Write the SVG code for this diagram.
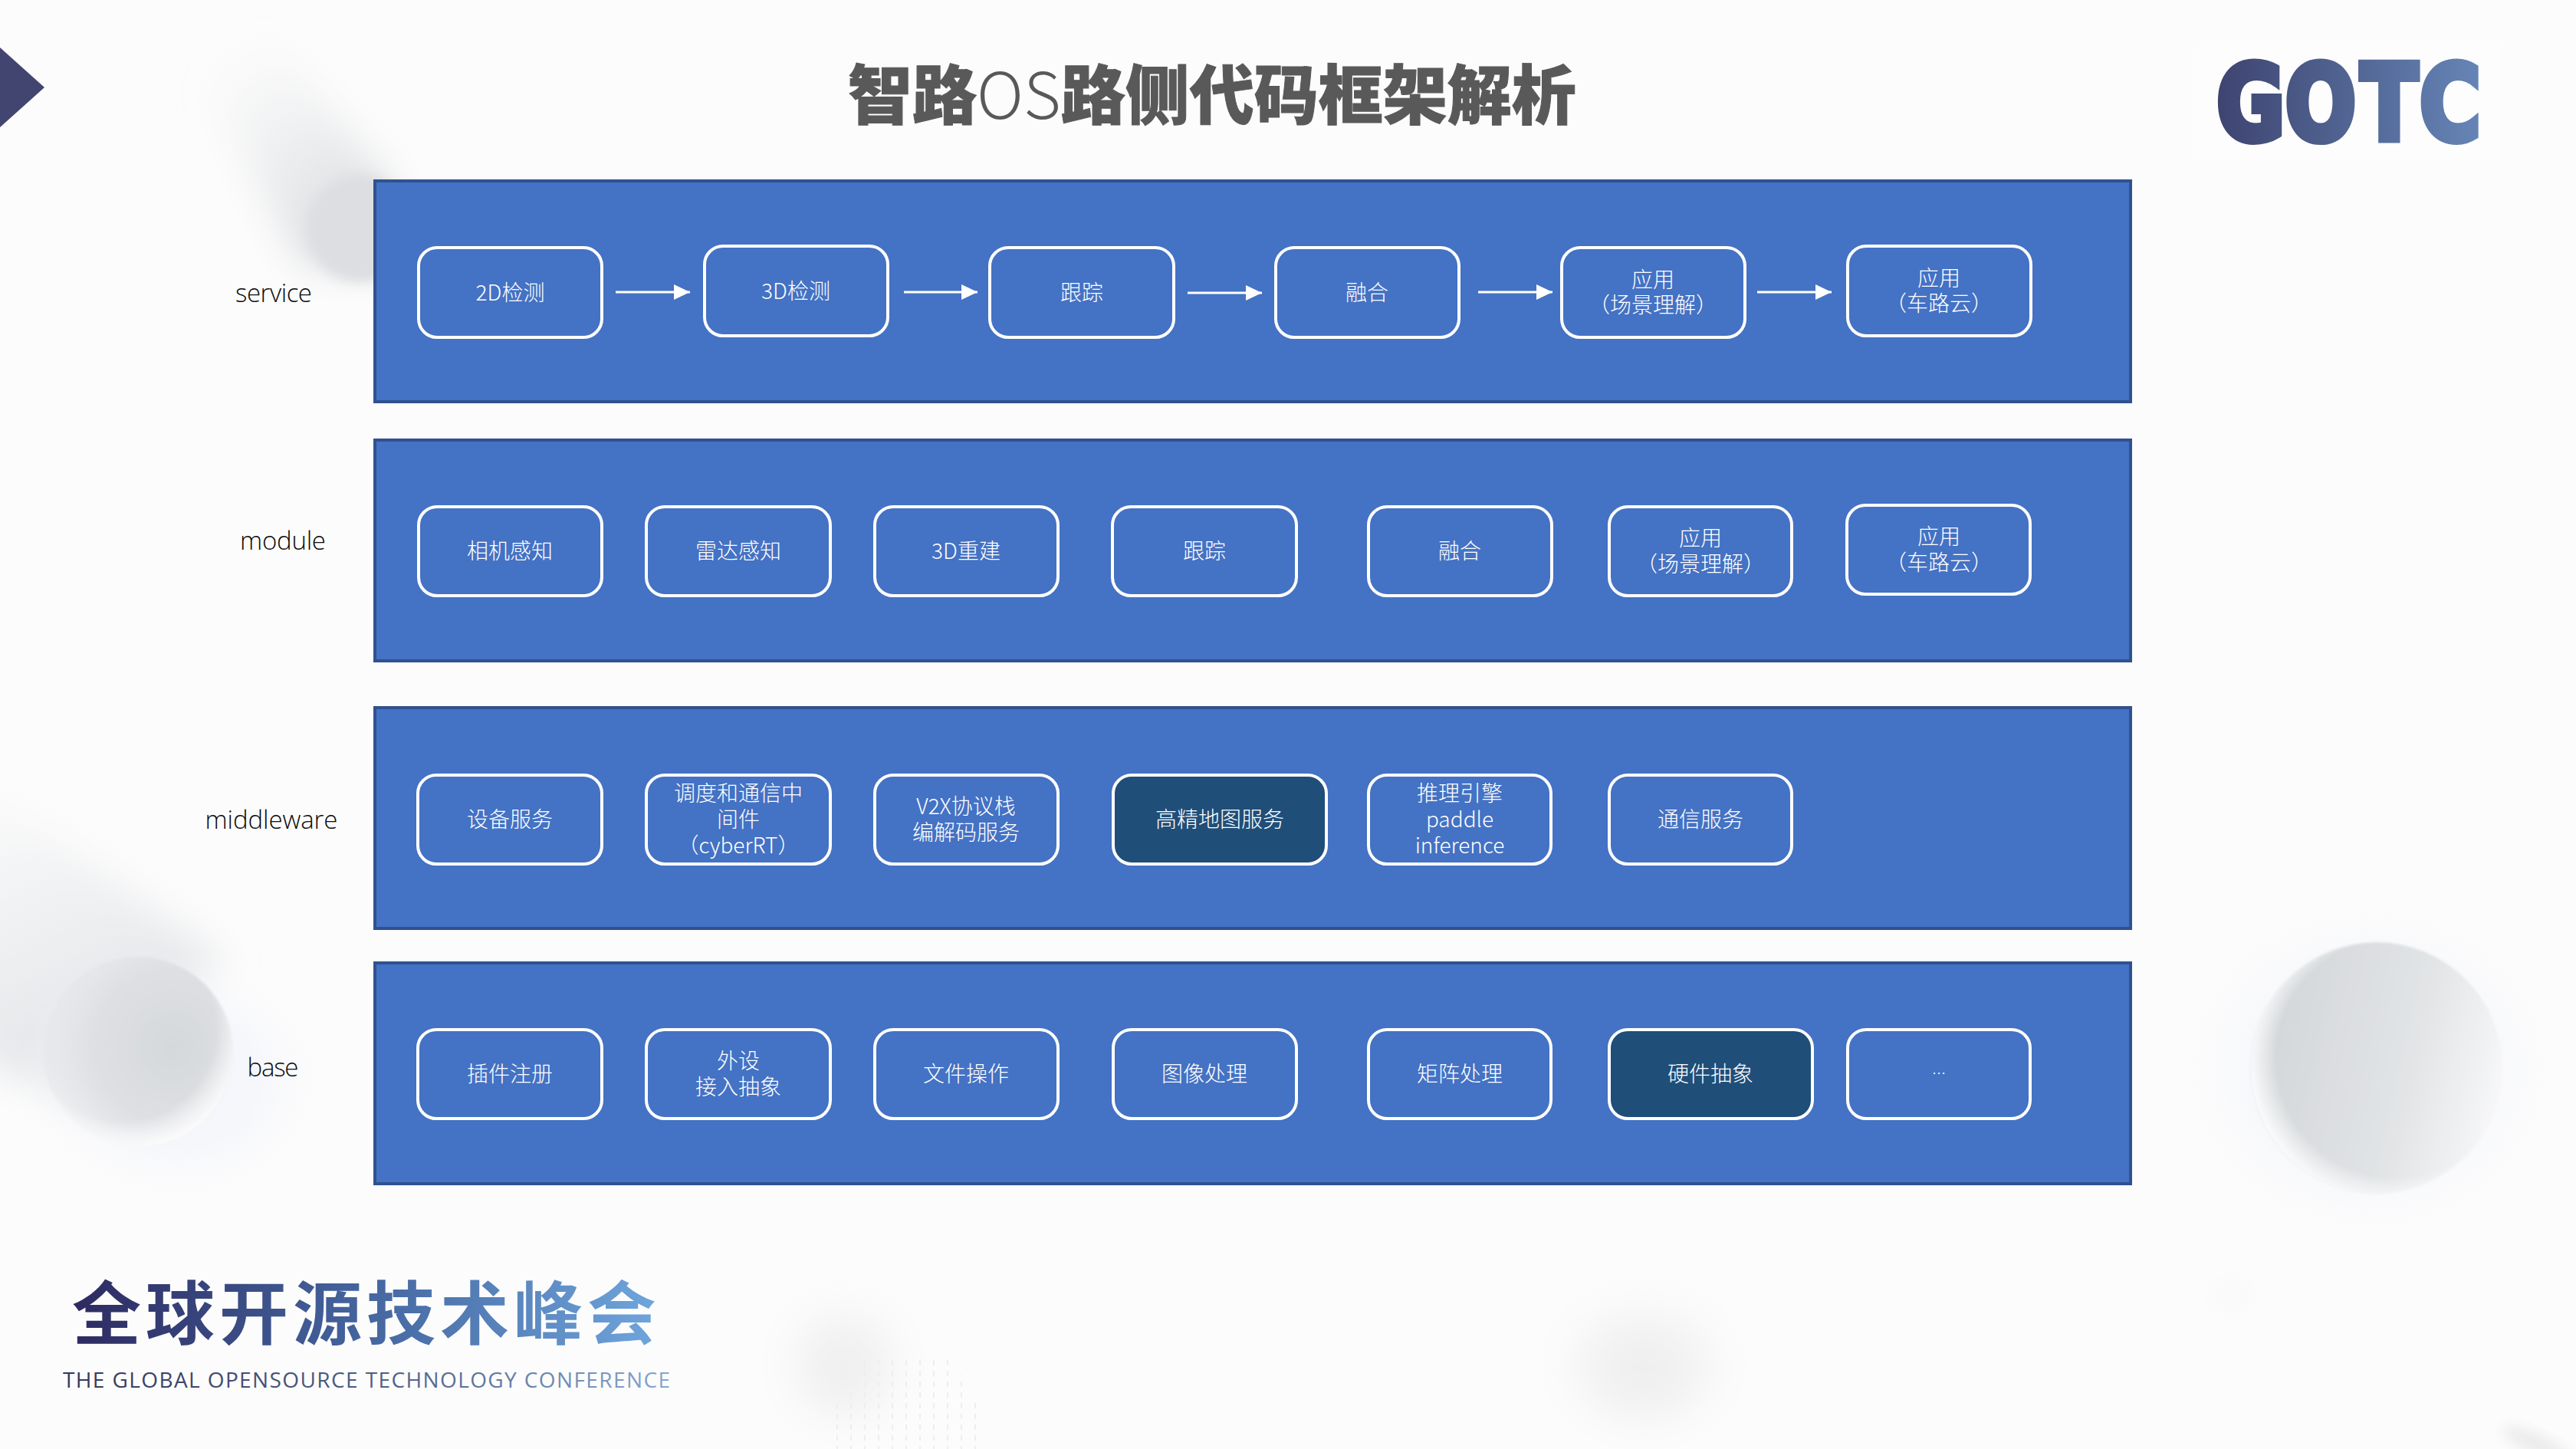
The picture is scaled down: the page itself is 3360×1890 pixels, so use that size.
<svg xmlns="http://www.w3.org/2000/svg" width="3360" height="1890" viewBox="0 0 3360 1890">
<style>
.panel{fill:#4472c4;stroke:#2f528f;stroke-width:4}
.box{fill:#4472c4;stroke:#fff;stroke-width:4}
.dark{fill:#1f4e79;stroke:#fff;stroke-width:4}
.t{font-family:"Noto Sans CJK SC","Noto Sans",sans-serif;font-weight:300;font-size:28px;fill:#fff;text-anchor:middle}
.lab{font-family:"Open Sans","Liberation Sans",sans-serif;font-weight:300;font-size:33px;fill:#0c0c0c;text-anchor:middle}
.arrow{stroke:#fff;stroke-width:3;fill:none;marker-end:url(#head)}
</style>
<defs>
<marker id="head" markerUnits="userSpaceOnUse" markerWidth="22" markerHeight="22" refX="21" refY="11" orient="auto"><path d="M0 1L21 11L0 21Z" fill="#fff"/></marker>
<filter id="b2" x="-10%" y="-10%" width="120%" height="120%"><feGaussianBlur stdDeviation="1.500"/></filter>
<filter id="b8" x="-30%" y="-30%" width="160%" height="160%"><feGaussianBlur stdDeviation="8"/></filter>
<filter id="b25" x="-40%" y="-40%" width="180%" height="180%"><feGaussianBlur stdDeviation="25"/></filter>
<linearGradient id="st1" gradientUnits="userSpaceOnUse" x1="280" y1="80" x2="450" y2="320"><stop offset="0" stop-color="#e4e6e9" stop-opacity="0"/><stop offset="1" stop-color="#dadcdf"/></linearGradient>
<linearGradient id="st2" gradientUnits="userSpaceOnUse" x1="10" y1="1000" x2="180" y2="1340"><stop offset="0" stop-color="#e2e4e8" stop-opacity="0"/><stop offset="1" stop-color="#e4e6e9"/></linearGradient>
<radialGradient id="sp1" gradientUnits="userSpaceOnUse" cx="225" cy="1365" r="190"><stop offset="0" stop-color="#d5d8db"/><stop offset=".55" stop-color="#dee0e3"/><stop offset="1" stop-color="#e8e9eb" stop-opacity=".3"/></radialGradient>
<radialGradient id="rim1" gradientUnits="userSpaceOnUse" cx="160" cy="1340" r="160"><stop offset=".76" stop-color="#fff" stop-opacity="0"/><stop offset="1" stop-color="#fbfbfc"/></radialGradient>
<linearGradient id="sp2" gradientUnits="userSpaceOnUse" x1="2960" y1="1350" x2="3270" y2="1420"><stop offset="0" stop-color="#d4d7da"/><stop offset=".6" stop-color="#e2e4e6"/><stop offset="1" stop-color="#f8f8f9"/></linearGradient>
<radialGradient id="rim2" gradientUnits="userSpaceOnUse" cx="3125" cy="1380" r="190"><stop offset=".82" stop-color="#fff" stop-opacity="0"/><stop offset="1" stop-color="#f9fafb"/></radialGradient>
<radialGradient id="halo" cx=".5" cy=".5" r=".5"><stop offset=".5" stop-color="#f1f3fa" stop-opacity=".6"/><stop offset="1" stop-color="#fbfbfd" stop-opacity="0"/></radialGradient>
<radialGradient id="smudge" cx=".5" cy=".6" r=".55"><stop offset="0" stop-color="#ededed"/><stop offset=".6" stop-color="#f3f3f3"/><stop offset="1" stop-color="#fcfcfc" stop-opacity="0"/></radialGradient>
<pattern id="dots" patternUnits="userSpaceOnUse" x="1091" y="1772" width="18" height="14"><rect x="0" y="2" width="2" height="7" fill="#eeeeee"/></pattern>
<linearGradient id="gLogo" x1="0" y1="0" x2="1" y2="0"><stop offset="0" stop-color="#3e4470"/><stop offset="1" stop-color="#6585b6"/></linearGradient>
<linearGradient id="gCn" gradientUnits="userSpaceOnUse" x1="94" y1="0" x2="855" y2="0"><stop offset="0" stop-color="#2d2a60"/><stop offset=".5" stop-color="#44659f"/><stop offset="1" stop-color="#6fa5dc"/></linearGradient>
<linearGradient id="gEn" gradientUnits="userSpaceOnUse" x1="83" y1="0" x2="874" y2="0"><stop offset="0" stop-color="#35365a"/><stop offset=".55" stop-color="#4f6288"/><stop offset="1" stop-color="#86a6d2"/></linearGradient>
</defs>

<rect width="3360" height="1890" fill="#fcfcfc"/>
<g id="background">
<polygon points="220,30 340,30 510,240 510,350 395,345" fill="url(#st1)" filter="url(#b25)"/>
<circle cx="470" cy="298" r="70" fill="#dcdee1" filter="url(#b8)"/>
<polygon points="-80,985 290,1250 130,1450 -80,1360" fill="url(#st2)" filter="url(#b25)"/>
<ellipse cx="230" cy="1410" rx="210" ry="170" fill="url(#halo)"/>
<circle cx="180" cy="1372" r="124" fill="url(#sp1)" filter="url(#b2)"/>
<circle cx="180" cy="1372" r="125" fill="url(#rim1)" filter="url(#b2)"/>
<ellipse cx="3090" cy="1395" rx="270" ry="240" fill="url(#halo)"/>
<circle cx="3100" cy="1393" r="164" fill="url(#sp2)" filter="url(#b2)"/>
<circle cx="3100" cy="1393" r="165" fill="url(#rim2)" filter="url(#b2)"/>
<ellipse cx="1101" cy="1765" rx="85" ry="90" fill="url(#smudge)" filter="url(#b25)"/>
<ellipse cx="2144" cy="1765" rx="115" ry="95" fill="url(#smudge)" filter="url(#b25)"/>
<polygon points="1130,1770 1240,1770 1280,1840 1275,1890 1091,1890 1091,1830" fill="url(#dots)"/>
<ellipse cx="2910" cy="1690" rx="30" ry="26" fill="#fafafa" filter="url(#b8)"/>
<ellipse cx="3310" cy="1885" rx="50" ry="14" fill="#ececec" transform="rotate(25 3310 1885)" filter="url(#b8)"/>
<rect x="2868" y="61" width="394" height="146" fill="#fdfdfd"/>
</g>
<polygon id="corner-mark" points="0,62 58,114 0,166" fill="#41456f"/>

<text id="title" x="1106" y="155" font-family="'Noto Sans CJK SC',sans-serif" font-size="84" font-weight="900" fill="#595959" stroke="#595959" stroke-width="1">智路<tspan font-weight="300" stroke="none">OS</tspan>路侧代码框架解析</text>

<g id="logo-gotc"><text transform="translate(2893,182) scale(.8,1)" x="-2 110 233 329" y="0" font-family="'DejaVu Sans',sans-serif" font-weight="700" font-size="135" fill="url(#gLogo)" stroke="url(#gLogo)" stroke-width="10">GOTC</text></g>

<g id="logo-conference">
<text x="94" y="1746" font-family="'Noto Sans CJK SC',sans-serif" font-weight="700" font-size="90" letter-spacing="6" fill="url(#gCn)">全球开源技术峰会</text>
<text x="82" y="1810" font-family="'Open Sans',sans-serif" font-size="28" textLength="792" fill="url(#gEn)">THE GLOBAL OPENSOURCE TECHNOLOGY CONFERENCE</text>
</g>

<g id="panels">
<rect id="panel-service" class="panel" x="489" y="236" width="2290" height="288"/>
<rect id="panel-module" class="panel" x="489" y="574" width="2290" height="288"/>
<rect id="panel-middleware" class="panel" x="489" y="923" width="2290" height="288"/>
<rect id="panel-base" class="panel" x="489" y="1256" width="2290" height="288"/>
</g>

<g id="layer-labels">
<text class="lab" x="357" y="394" textLength="100">service</text>
<text class="lab" x="369" y="717" textLength="112">module</text>
<text class="lab" x="354" y="1081" textLength="173">middleware</text>
<text class="lab" x="356" y="1404" textLength="67">base</text>
</g>

<g id="connectors">
<path class="arrow" d="M803 381H900"/>
<path class="arrow" d="M1179 381H1275"/>
<path class="arrow" d="M1549 382H1646"/>
<path class="arrow" d="M1928 381H2025"/>
<path class="arrow" d="M2292 381H2389"/>
</g>

<g id="n-s1"><rect class="box" x="546" y="323" width="239" height="117" rx="24"/><text class="t" x="665.500" y="392">2D检测</text></g>
<g id="n-s2"><rect class="box" x="919" y="321" width="239" height="117" rx="24"/><text class="t" x="1038" y="390">3D检测</text></g>
<g id="n-s3"><rect class="box" x="1291" y="323" width="240" height="117" rx="24"/><text class="t" x="1411" y="392">跟踪</text></g>
<g id="n-s4"><rect class="box" x="1664" y="323" width="239" height="117" rx="24"/><text class="t" x="1783" y="392">融合</text></g>
<g id="n-s5"><rect class="box" x="2037" y="323" width="239" height="117" rx="24"/><text class="t" x="2156" y="375">应用</text><text class="t" x="2156" y="408">（场景理解）</text></g>
<g id="n-s6"><rect class="box" x="2410" y="321" width="239" height="117" rx="24"/><text class="t" x="2529" y="373">应用</text><text class="t" x="2529" y="406">（车路云）</text></g>

<g id="n-m1"><rect class="box" x="546" y="661" width="239" height="116" rx="24"/><text class="t" x="665" y="729">相机感知</text></g>
<g id="n-m2"><rect class="box" x="843" y="661" width="240" height="116" rx="24"/><text class="t" x="963" y="729">雷达感知</text></g>
<g id="n-m3"><rect class="box" x="1141" y="661" width="239" height="116" rx="24"/><text class="t" x="1260" y="729">3D重建</text></g>
<g id="n-m4"><rect class="box" x="1451" y="661" width="240" height="116" rx="24"/><text class="t" x="1571" y="729">跟踪</text></g>
<g id="n-m5"><rect class="box" x="1785" y="661" width="239" height="116" rx="24"/><text class="t" x="1904" y="729">融合</text></g>
<g id="n-m6"><rect class="box" x="2099" y="661" width="238" height="116" rx="24"/><text class="t" x="2218" y="712">应用</text><text class="t" x="2218" y="746">（场景理解）</text></g>
<g id="n-m7"><rect class="box" x="2409" y="659" width="239" height="116" rx="24"/><text class="t" x="2529" y="710">应用</text><text class="t" x="2529" y="744">（车路云）</text></g>

<g id="n-w1"><rect class="box" x="545" y="1011" width="240" height="116" rx="24"/><text class="t" x="665" y="1079">设备服务</text></g>
<g id="n-w2"><rect class="box" x="843" y="1011" width="240" height="116" rx="24"/><text class="t" x="963" y="1045">调度和通信中</text><text class="t" x="963" y="1079">间件</text><text class="t" x="963" y="1113">（cyberRT）</text></g>
<g id="n-w3"><rect class="box" x="1141" y="1011" width="239" height="116" rx="24"/><text class="t" x="1260" y="1062">V2X协议栈</text><text class="t" x="1260" y="1096">编解码服务</text></g>
<g id="n-w4"><rect class="dark" x="1452" y="1011" width="278" height="116" rx="24"/><text class="t" x="1591" y="1079">高精地图服务</text></g>
<g id="n-w5"><rect class="box" x="1785" y="1011" width="238" height="116" rx="24"/><text class="t" x="1904" y="1045">推理引擎</text><text class="t" x="1904" y="1079">paddle</text><text class="t" x="1904" y="1113">inference</text></g>
<g id="n-w6"><rect class="box" x="2099" y="1011" width="238" height="116" rx="24"/><text class="t" x="2218" y="1079">通信服务</text></g>

<g id="n-b1"><rect class="box" x="545" y="1343" width="240" height="116" rx="24"/><text class="t" x="665" y="1411">插件注册</text></g>
<g id="n-b2"><rect class="box" x="843" y="1343" width="240" height="116" rx="24"/><text class="t" x="963" y="1394">外设</text><text class="t" x="963" y="1428">接入抽象</text></g>
<g id="n-b3"><rect class="box" x="1141" y="1343" width="239" height="116" rx="24"/><text class="t" x="1260" y="1411">文件操作</text></g>
<g id="n-b4"><rect class="box" x="1452" y="1343" width="239" height="116" rx="24"/><text class="t" x="1571" y="1411">图像处理</text></g>
<g id="n-b5"><rect class="box" x="1785" y="1343" width="238" height="116" rx="24"/><text class="t" x="1904" y="1411">矩阵处理</text></g>
<g id="n-b6"><rect class="dark" x="2099" y="1343" width="265" height="116" rx="24"/><text class="t" x="2231" y="1411">硬件抽象</text></g>
<g id="n-b7"><rect class="box" x="2410" y="1343" width="238" height="116" rx="24"/><text class="t" x="2529" y="1407" style="font-size:18px">…</text></g>
</svg>
